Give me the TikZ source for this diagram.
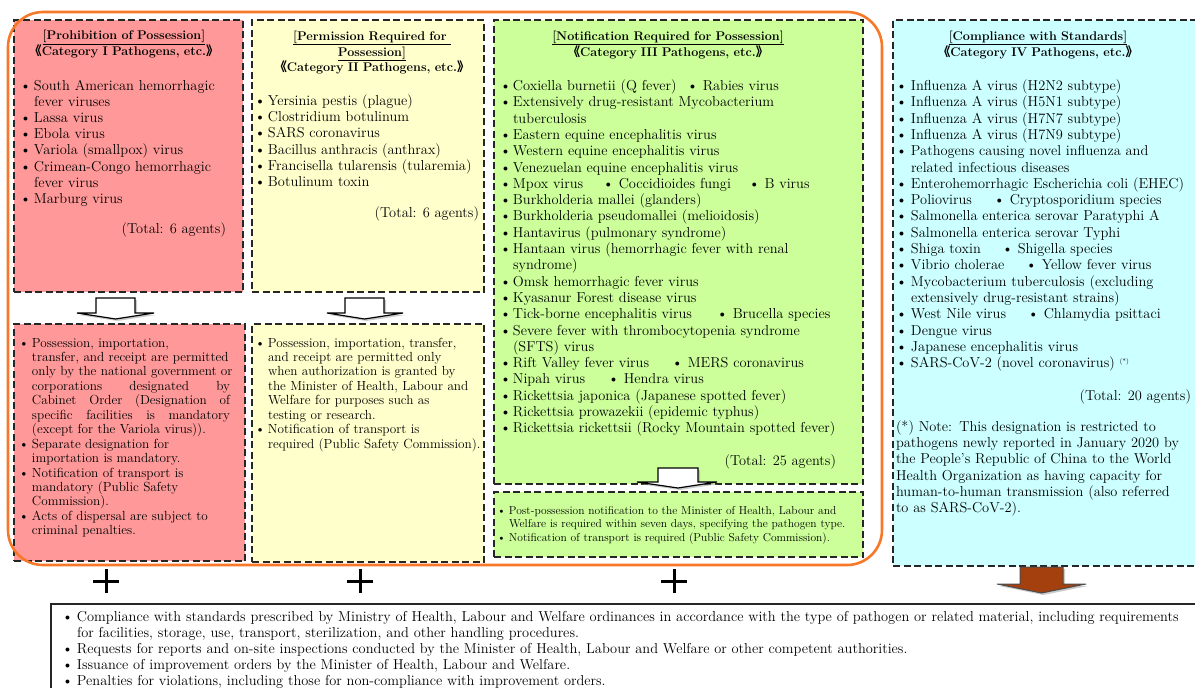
\documentclass[tikz,border=0pt]{standalone}
\usepackage{fontspec}
\newfontfamily\cjk{Noto Sans CJK SC}
\definecolor{pinkI}{RGB}{255,153,153}
\definecolor{yelII}{RGB}{255,255,204}
\definecolor{grnIII}{RGB}{204,255,153}
\definecolor{cynIV}{RGB}{204,255,255}
\definecolor{orng}{RGB}{247,120,40}
\definecolor{brwn}{RGB}{163,64,14}
\hyphenpenalty=10000
\exhyphenpenalty=10000
\newcommand\lbk{\makebox[0.6em][r]{\cjk 《}}
\newcommand\rbk{\makebox[0.6em][l]{\cjk 》}}
\newcommand\itm[2][14pt]{\hangindent=#1\hangafter=1\noindent\makebox[#1][l]{\textbullet}#2\par}
\newcommand\subit[2]{\makebox[#1][l]{#2}\textbullet\ }
\newcommand\jst[1]{\makebox[198pt]{#1}}
\tikzset{
  dbox/.style={draw=black!85, line width=1.8pt, dash pattern=on 7pt off 3.5pt, inner sep=0pt, outer sep=0pt, anchor=north west},
  txt/.style={anchor=base west, inner sep=0pt, outer sep=0pt, text width=#1, align=left},
  ttl/.style={anchor=base, inner sep=0pt, outer sep=0pt, text width=#1, align=center, font=\fontsize{12.6}{16}\selectfont\bfseries},
  tot/.style={anchor=base east, inner sep=0pt, outer sep=0pt},
  big/.style={font=\fontsize{14.4}{16.2}\selectfont},
  mid/.style={font=\fontsize{13.2}{14.45}\selectfont},
  sml/.style={font=\fontsize{11.5}{13.3}\selectfont},
  harrow/.style={fill=white, draw=black, line width=1.2pt},
  hshadow/.style={fill=black!40, opacity=0.5},
  plus/.style={line width=3pt, draw=black},
}
\begin{document}
\begin{tikzpicture}[x=1pt, y=-1pt]
\useasboundingbox (0,0) rectangle (1195,688);
\clip (0,0) rectangle (1195,688);
% boxes
\node[dbox, fill=pinkI, minimum width=229pt, minimum height=272pt] (b1t) at (14,20) {};
\node[dbox, fill=yelII, minimum width=232pt, minimum height=272pt] (b2t) at (252,20) {};
\node[dbox, fill=grnIII, minimum width=369pt, minimum height=464pt] (b3t) at (494,20) {};
\node[dbox, fill=cynIV, minimum width=320pt, minimum height=546pt] (b4) at (893,20) {};
\node[dbox, fill=pinkI, minimum width=231pt, minimum height=237pt] (b1b) at (14,324) {};
\node[dbox, fill=yelII, minimum width=232pt, minimum height=238pt] (b2b) at (252,324) {};
\node[dbox, fill=grnIII, minimum width=369pt, minimum height=65pt] (b3b) at (494,492) {};
\node[draw=black!85, line width=1.8pt, fill=white, inner sep=0pt, anchor=north west, minimum width=1160pt, minimum height=100pt] (bot) at (50,603) {};

% titles
\node[ttl=220pt] (t1) at (124,39.5) {\underline{[Prohibition of Possession]}\\\lbk Category I Pathogens, etc.\rbk};
\node[ttl=228pt] (t2) at (372,40) {\underline{[Permission Required for\ }\\\underline{Possession]}\\\lbk Category II Pathogens, etc.\rbk};
\node[ttl=360pt] (t3) at (668,40) {\underline{[Notification Required for Possession]}\\\lbk Category III Pathogens, etc.\rbk};
\node[ttl=290pt] (t4) at (1038,40) {\underline{[Compliance with Standards]}\\\lbk Category IV Pathogens, etc.\rbk};

% box I items
\node[txt=222pt, big] (i1) at (20,90) {%
\itm{South American hemorrhagic\newline fever viruses}
\itm{Lassa virus}
\itm{Ebola virus}
\itm{Variola (smallpox) virus}
\itm{Crimean-Congo hemorrhagic\newline fever virus}
\itm{Marburg virus}};
\node[tot, big] (tot1) at (226,233.5) {(Total: 6 agents)};

% box II items
\node[txt=240pt, big] (i2) at (254.5,105.5) {%
\itm[13.5pt]{Yersinia pestis (plague)}
\itm[13.5pt]{Clostridium botulinum}
\itm[13.5pt]{SARS coronavirus}
\itm[13.5pt]{Bacillus anthracis (anthrax)}
\itm[13.5pt]{Francisella tularensis (tularemia)}
\itm[13.5pt]{Botulinum toxin}};
\node[tot, big] (tot2) at (479,217.5) {(Total: 6 agents)};

% box III items
\node[txt=360pt, font=\fontsize{14.4}{16.3}\selectfont] (i3) at (500,90.5) {%
\itm[13pt]{\subit{174pt}{Coxiella burnetii (Q fever)}Rabies virus}
\itm[13pt]{Extensively drug-resistant Mycobacterium\newline tuberculosis}
\itm[13pt]{Eastern equine encephalitis virus}
\itm[13pt]{Western equine encephalitis virus}
\itm[13pt]{Venezuelan equine encephalitis virus}
\itm[13pt]{\subit{90pt}{Mpox virus}\subit{130pt}{Coccidioides fungi}B virus}
\itm[13pt]{Burkholderia mallei (glanders)}
\itm[13pt]{Burkholderia pseudomallei (melioidosis)}
\itm[13pt]{Hantavirus (pulmonary syndrome)}
\itm[13pt]{Hantaan virus (hemorrhagic fever with renal\newline syndrome)}
\itm[13pt]{Omsk hemorrhagic fever virus}
\itm[13pt]{Kyasanur Forest disease virus}
\itm[13pt]{\subit{204pt}{Tick-borne encephalitis virus}Brucella species}
\itm[13pt]{Severe fever with thrombocytopenia syndrome\newline (SFTS) virus}
\itm[13pt]{\subit{159pt}{Rift Valley fever virus}MERS coronavirus}
\itm[13pt]{\subit{95pt}{Nipah virus}Hendra virus}
\itm[13pt]{Rickettsia japonica (Japanese spotted fever)}
\itm[13pt]{Rickettsia prowazekii (epidemic typhus)}
\itm[13pt]{Rickettsia rickettsii (Rocky Mountain spotted fever)}};
\node[tot, big] (tot3) at (836,465.5) {(Total: 25 agents)};

% box IV items
\node[txt=300pt, font=\fontsize{14.4}{16.3}\selectfont] (i4) at (896,90.5) {%
\itm[15pt]{Influenza A virus (H2N2 subtype)}
\itm[15pt]{Influenza A virus (H5N1 subtype)}
\itm[15pt]{Influenza A virus (H7N7 subtype)}
\itm[15pt]{Influenza A virus (H7N9 subtype)}
\itm[15pt]{Pathogens causing novel influenza and\newline related infectious diseases}
\itm[15pt]{Enterohemorrhagic Escherichia coli (EHEC)}
\itm[15pt]{\subit{83pt}{Poliovirus}Cryptosporidium species}
\itm[15pt]{Salmonella enterica serovar Paratyphi A}
\itm[15pt]{Salmonella enterica serovar Typhi}
\itm[15pt]{\subit{91pt}{Shiga toxin}Shigella species}
\itm[15pt]{\subit{115pt}{Vibrio cholerae}Yellow fever virus}
\itm[15pt]{Mycobacterium tuberculosis (excluding\newline extensively drug-resistant strains)}
\itm[15pt]{\subit{117pt}{West Nile virus}Chlamydia psittaci}
\itm[15pt]{Dengue virus}
\itm[15pt]{Japanese encephalitis virus}
\itm[15pt]{SARS-CoV-2 (novel coronavirus) {\fontsize{6.5}{7}\selectfont\raisebox{4pt}{(*)}}}};
\node[tot, big] (tot4) at (1191,400.5) {(Total: 20 agents)};
\node[txt=300pt, big] (note4) at (896,431.5) {(*) Note: This designation is restricted to\newline pathogens newly reported in January 2020 by\newline the People's Republic of China to the World\newline Health Organization as having capacity for\newline human-to-human transmission (also referred\newline to as SARS-CoV-2).};

% lower boxes text
\node[txt=235pt, mid] (r1) at (19,347) {%
\itm[13pt]{Possession, importation,\newline transfer, and receipt are permitted\newline only by the national government or\newline \jst{corporations\hfill designated\hfill by}\newline \jst{Cabinet\hfill Order\hfill (Designation\hfill of}\newline \jst{specific\hfill facilities\hfill is\hfill mandatory}\newline (except for the Variola virus)).}
\itm[13pt]{Separate designation for\newline importation is mandatory.}
\itm[13pt]{Notification of transport is\newline mandatory (Public Safety\newline Commission).}
\itm[13pt]{Acts of dispersal are subject to\newline criminal penalties.}};
\node[txt=245pt, mid] (r2) at (255,347) {%
\itm[13pt]{Possession, importation, transfer,\newline and receipt are permitted only\newline when authorization is granted by\newline the Minister of Health, Labour and\newline Welfare for purposes such as\newline testing or research.}
\itm[13pt]{Notification of transport is\newline required (Public Safety Commission).}};
\node[txt=364pt, sml] (r3) at (497,514.5) {%
\itm[12pt]{Post-possession notification to the Minister of Health, Labour and\newline Welfare is required within seven days, specifying the pathogen type.}
\itm[12pt]{Notification of transport is required (Public Safety Commission).}};

% bottom box text
\node[txt=1140pt, font=\fontsize{14.4}{16}\selectfont] (r5) at (62,621.5) {%
\itm[15pt]{Compliance with standards prescribed by Ministry of Health, Labour and Welfare ordinances in accordance with the type of pathogen or related material, including requirements\newline for facilities, storage, use, transport, sterilization, and other handling procedures.}
\itm[15pt]{Requests for reports and on-site inspections conducted by the Minister of Health, Labour and Welfare or other competent authorities.}
\itm[15pt]{Issuance of improvement orders by the Minister of Health, Labour and Welfare.}
\itm[15pt]{Penalties for violations, including those for non-compliance with improvement orders.}};

% hollow arrows
\fill[hshadow] (98,300) -- (137,300) -- (137,315) -- (156,315) -- (117.5,321) -- (79,315) -- (98,315) -- cycle;
\draw[harrow] (96,298) -- (135,298) -- (135,313) -- (154,313) -- (115.5,319) -- (77,313) -- (96,313) -- cycle;
\fill[hshadow] (347,300) -- (386,300) -- (386,315) -- (405,315) -- (366.5,321) -- (329,315) -- (347,315) -- cycle;
\draw[harrow] (345,298) -- (384,298) -- (384,313) -- (403,313) -- (364.5,319) -- (327,313) -- (345,313) -- cycle;
\fill[hshadow] (660,470) -- (700,470) -- (700,484) -- (719,484) -- (680,490) -- (639,484) -- (660,484) -- cycle;
\draw[harrow] (658,468) -- (698,468) -- (698,482) -- (717,482) -- (678,488) -- (637,482) -- (658,482) -- cycle;
% brown arrow
\fill[hshadow] (1022,569) -- (1065,569) -- (1065,586) -- (1088,586) -- (1043.5,595) -- (999,586) -- (1022,586) -- cycle;
\draw[fill=brwn, draw=black!70, line width=1pt] (1020,567) -- (1063,567) -- (1063,584) -- (1086,584) -- (1041.5,593) -- (997,584) -- (1020,584) -- cycle;

% orange frame
\draw[orng, line width=2.6pt, rounded corners=35pt] (8,12) rectangle (882,565);

% plus signs
\foreach \cx in {106,360,674} {
  \draw[plus] (\cx-13,581) -- (\cx+13,581);
  \draw[plus] (\cx,569) -- (\cx,593);
}
\end{tikzpicture}
\end{document}
